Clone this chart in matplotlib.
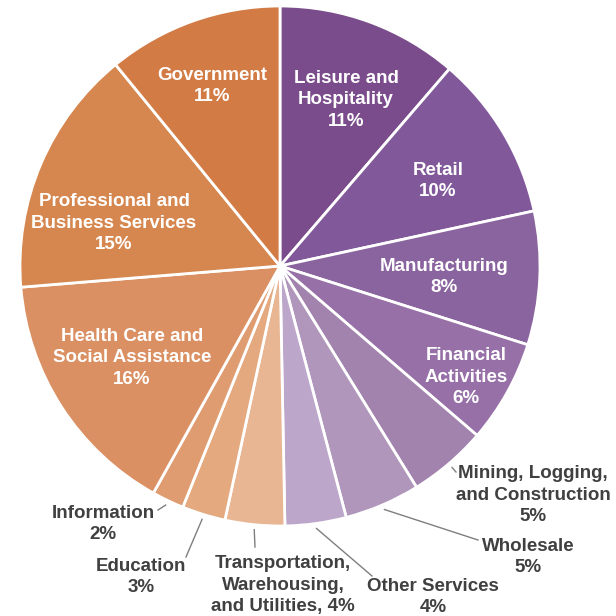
import numpy as np
import matplotlib
matplotlib.use("Agg")
import matplotlib.pyplot as plt

plt.rcParams['font.family'] = ['Liberation Sans', 'DejaVu Sans']

# employment share by sector, clockwise from 12 o'clock
sectors = ["Leisure and\nHospitality", "Retail", "Manufacturing", "Financial\nActivities",
           "Mining, Logging,\nand Construction", "Wholesale", "Other Services",
           "Transportation,\nWarehousing,\nand Utilities", "Education", "Information",
           "Health Care and\nSocial Assistance", "Professional and\nBusiness Services", "Government"]
shares = [11.3, 10.3, 8.3, 6.4, 4.9, 4.7, 3.8, 3.7, 2.7, 2.0, 15.6, 15.4, 10.9]
colors = ["#7a4c8b", "#81599a", "#8a649e", "#9670a6", "#a283ae", "#af96ba", "#bca6ca",
          "#e8b693", "#e4a97f", "#df9c70", "#da9062", "#d6874f", "#d27b45"]

W = 616
cx, cy, R = 280, 266, 260
FS = 13.5
LS = 1.33

def px(x, y):
    return x, W - y

fig = plt.figure(figsize=(6.16, 6.16), dpi=100)
ax = fig.add_axes([0, 0, 1, 1])
ax.axis('off')

wedges, _ = ax.pie(shares, colors=colors, startangle=90, counterclock=False,
                   center=px(cx, cy), radius=R,
                   wedgeprops=dict(edgecolor='white', linewidth=2))
ax.set_xlim(0, W)
ax.set_ylim(0, W)
ax.set_aspect('equal')

labels = []
for name, v in zip(sectors, shares):
    pct = f"{v:.0f}%"
    if name.startswith("Transportation"):
        labels.append(name + ", " + pct)
    else:
        labels.append(name + "\n" + pct)

# label centres in pixels (y down)
inside = {0: (346, 100), 1: (438, 181), 2: (444, 277), 3: (466, 377),
          10: (132, 358), 11: (114, 223), 12: (212, 86)}
# outside labels: text centre, end of leader line
outside = {4: ((533, 495), (456, 472)),
           5: ((528, 557), (478, 540)),
           6: ((433, 597), (372, 576)),
           7: ((283, 585), (255, 547)),
           8: ((141, 577), (186, 557)),
           9: ((103, 524), (158, 510))}

for i, w in enumerate(wedges):
    if i in inside:
        x, y = inside[i]
        ax.text(*px(x, y), labels[i], color='white', fontsize=FS, fontweight='bold',
                ha='center', va='center', linespacing=LS)
    else:
        (tx, ty), (ex, ey) = outside[i]
        mid = np.deg2rad((w.theta1 + w.theta2) / 2)
        sx = cx + (R + 5) * np.cos(mid)
        sy = cy - (R + 5) * np.sin(mid)
        ax.plot([sx, ex], [W - sy, W - ey], color='#7f7f7f', lw=1)
        ax.text(*px(tx, ty), labels[i], color='#404040', fontsize=FS, fontweight='bold',
                ha='center', va='center', linespacing=LS)

fig.savefig("out.png", dpi=100)
